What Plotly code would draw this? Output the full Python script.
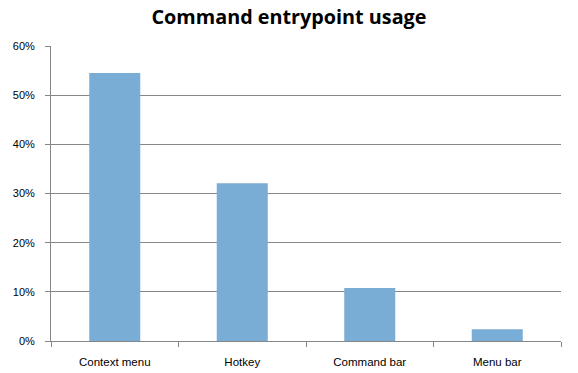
import plotly.graph_objects as go

categories = ["Context menu", "Hotkey", "Command bar", "Menu bar"]
usage = [0.545, 0.321, 0.108, 0.024]
y_ticks = [0, 0.1, 0.2, 0.3, 0.4, 0.5, 0.6]
y_tick_labels = ["0%", "10%", "20%", "30%", "40%", "50%", "60%"]

fig = go.Figure(go.Bar(x=categories, y=usage, marker=dict(color="#7AADD5", line=dict(width=0)), width=0.4))

fig.update_layout(
    width=578, height=373,
    margin=dict(l=51, r=17, t=46, b=32),
    paper_bgcolor="white", plot_bgcolor="white",
    title=dict(text="<b>Command entrypoint usage</b>", x=289 / 578, xanchor="center", y=0.953, yanchor="middle",
               font=dict(family="Open Sans, Liberation Sans, sans-serif", size=19.8, color="black")),
    font=dict(family="Liberation Sans, DejaVu Sans, sans-serif", size=11, color="black"),
    showlegend=False,
    bargap=0.6,
)
fig.update_xaxes(showline=True, linecolor="#868686", linewidth=1, ticks="outside", tickson="boundaries",
                 ticklen=5, tickcolor="#868686", showgrid=False, tickfont=dict(size=11.5),
                 ticklabelstandoff=10, automargin=False)
fig.update_yaxes(range=[0, 0.6], tickvals=y_ticks, ticktext=y_tick_labels, showline=True, linecolor="#868686",
                 linewidth=1, ticks="outside", ticklen=5, tickcolor="#868686", showgrid=True, gridcolor="#868686",
                 gridwidth=1, zeroline=False, tickfont=dict(size=11), ticklabelstandoff=8, automargin=False)

fig.write_html("out.html")
